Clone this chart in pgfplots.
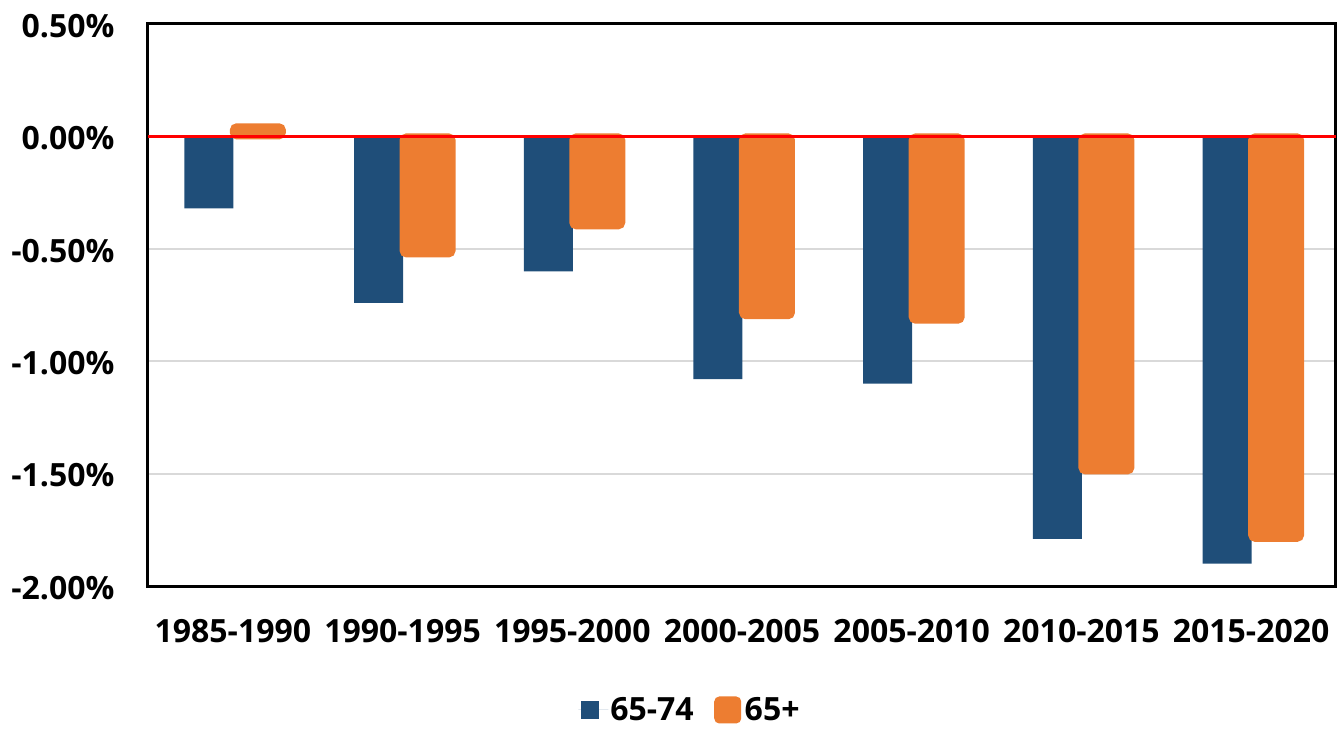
\documentclass[border=0pt]{standalone}
\usepackage{pgfplots}
\pgfplotsset{compat=1.18}
\usepackage{fontspec}
\setmainfont{Open Sans}
\definecolor{blueA}{HTML}{1F4E79}
\definecolor{orangeA}{HTML}{ED7D31}
\definecolor{gridA}{HTML}{D9D9D9}
\begin{document}
\begin{tikzpicture}[font=\fontsize{32}{38}\bfseries\selectfont]
\begin{axis}[
  at={(0,0)}, anchor=south west,
  scale only axis, width=1188pt, height=562pt,
  xmin=-0.5, xmax=6.5, ymin=-2, ymax=0.5,
  xtick={0,1,2,3,4,5,6},
  xticklabels={1985-1990,1990-1995,1995-2000,2000-2005,2005-2010,2010-2015,2015-2020},
  ytick={-2,-1.5,-1,-0.5,0,0.5},
  yticklabels={-2.00\%,-1.50\%,-1.00\%,-0.50\%,0.00\%,0.50\%},
  major tick length=0pt,
  ymajorgrids, grid style={gridA, line width=2pt},
  axis line style={black, line width=3pt},
  xticklabel style={yshift=-30pt},
  yticklabel style={xshift=-30pt, yshift=-2pt},
  legend style={at={(0.4562,-0.2206)}, anchor=center, draw=none, legend columns=2,
    /tikz/every even column/.append style={column sep=17pt}},
]
\addplot[ybar, bar width=49pt, bar shift=-24pt, fill=blueA, draw=none,
  legend image code/.code={\fill[blueA] (3pt,-9pt) rectangle (21pt,9pt); \path[draw=none] (0pt,0pt) -- (30pt,0pt);}]
  coordinates {(0,-0.32) (1,-0.74) (2,-0.60) (3,-1.08) (4,-1.10) (5,-1.79) (6,-1.90)};
\addlegendentry{65-74}
\addplot[ybar, bar width=50pt, bar shift=25pt, fill=orangeA, draw=orangeA, line width=6pt, rounded corners=4pt,
  legend image code/.code={\path[fill=orangeA, draw=orangeA, line width=5pt, rounded corners=3pt] (4pt,-11pt) rectangle (26pt,11pt); \path[draw=none, fill=none] (0pt,0pt) -- (30pt,0pt);}]
  coordinates {(0,0.045) (1,-0.525) (2,-0.40) (3,-0.80) (4,-0.82) (5,-1.49) (6,-1.79)};
\addlegendentry{65+}
\draw[red, line width=3pt] (rel axis cs:0,0.8) -- (rel axis cs:1,0.8);
\end{axis}
\pgfresetboundingbox
\path (-148pt,-142pt) rectangle (1190pt,586pt);
\end{tikzpicture}
\end{document}
